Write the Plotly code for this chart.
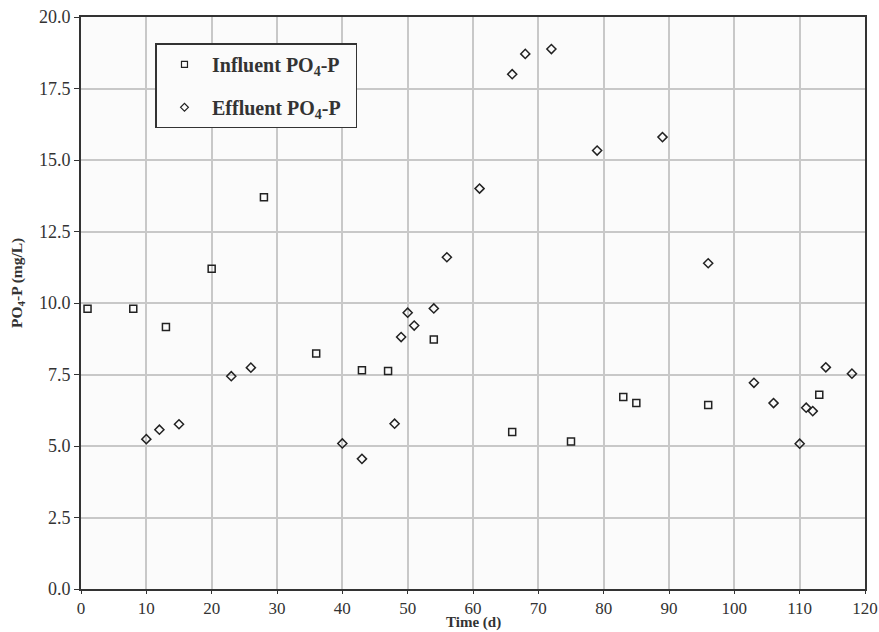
import plotly.graph_objects as go

# Influent PO4-P
inf_t = [1, 8, 13, 20, 28, 36, 43, 47, 54, 66, 75, 83, 85, 96, 113]
inf_p = [9.8, 9.8, 9.16, 11.2, 13.7, 8.23, 7.65, 7.62, 8.72, 5.49, 5.16, 6.71, 6.5, 6.43, 6.79]

# Effluent PO4-P
eff_t = [10, 12, 15, 23, 26, 40, 43, 48, 49, 50, 51, 54, 56, 61, 66, 68, 72, 79, 89,
         96, 103, 106, 110, 111, 112, 114, 118]
eff_p = [5.24, 5.57, 5.76, 7.44, 7.74, 5.09, 4.55, 5.78, 8.81, 9.66, 9.21, 9.81, 11.6,
         14.0, 18.0, 18.71, 18.88, 15.33, 15.8, 11.39, 7.21, 6.5, 5.08, 6.34, 6.22, 7.75, 7.53]

x_ticks = [0, 10, 20, 30, 40, 50, 60, 70, 80, 90, 100, 110, 120]
y_ticks = [0, 2.5, 5, 7.5, 10, 12.5, 15, 17.5, 20]

pad = "&nbsp;&nbsp;"
names = ["<b>Influent PO<sub>4</sub>-P</b>" + pad, "<b>Effluent PO<sub>4</sub>-P</b>" + pad]
x_title = "<b>Time (d)</b>"
y_title = "<b>PO<sub>4</sub>-P (mg/L)</b>"
ink = "#222222"

fig = go.Figure()
fig.add_trace(go.Scatter(x=inf_t, y=inf_p, mode="markers", showlegend=False,
                         marker=dict(symbol="square-open", size=7, color=ink,
                                     line=dict(width=1.5, color=ink))))
fig.add_trace(go.Scatter(x=eff_t, y=eff_p, mode="markers", showlegend=False,
                         marker=dict(symbol="diamond-open", size=7, color=ink,
                                     line=dict(width=1.5, color=ink))))
# legend entries
fig.add_trace(go.Scatter(x=[None], y=[None], mode="markers", name=names[0], legendgroup="a",
                         marker=dict(symbol="square-open", size=6, color=ink,
                                     line=dict(width=1.2, color=ink))))
fig.add_trace(go.Scatter(x=[None], y=[None], mode="markers", name=names[1], legendgroup="b",
                         marker=dict(symbol="diamond-open", size=6, color=ink,
                                     line=dict(width=1.2, color=ink))))

font_family = "Liberation Serif"
fig.update_layout(
    width=879, height=632,
    margin=dict(l=81, r=14, t=17, b=43),
    paper_bgcolor="white",
    plot_bgcolor="#fbfbfb",
    font=dict(family=font_family, color="#333333", size=18),
    legend=dict(x=0.095, y=0.954, xanchor="left", yanchor="top",
                bordercolor="#333333", borderwidth=1.5, bgcolor="#fbfbfb",
                font=dict(size=20, color="#333333", family=font_family),
                tracegroupgap=14, traceorder="grouped", itemwidth=45),
    xaxis=dict(range=[0, 120], tickvals=x_ticks, ticktext=[str(v) for v in x_ticks],
               showgrid=True, gridcolor="#c8c8c8", gridwidth=1.5,
               showline=True, linecolor="#333333", linewidth=2, mirror=True,
               ticks="outside", ticklen=3, tickcolor="#333333", zeroline=False,
               automargin=False, tickfont=dict(size=17)),
    yaxis=dict(range=[0, 20], tickvals=y_ticks, ticktext=[f"{v:.1f}" for v in y_ticks],
               showgrid=True, gridcolor="#c8c8c8", gridwidth=1.5,
               showline=True, linecolor="#333333", linewidth=2, mirror=True,
               ticks="outside", ticklen=5, tickcolor="#333333", zeroline=False,
               automargin=False, tickfont=dict(size=18)),
    annotations=[
        dict(text=x_title, xref="paper", yref="paper", x=0.5, y=-0.0752,
             xanchor="center", yanchor="bottom", showarrow=False, borderpad=0,
             font=dict(size=15, color="#333333", family=font_family)),
        dict(text=y_title, xref="paper", yref="paper", x=-0.0804, y=0.535,
             xanchor="center", yanchor="middle", showarrow=False, textangle=-90,
             font=dict(size=15.5, color="#333333", family=font_family)),
    ],
)

fig.write_html("out.html")
